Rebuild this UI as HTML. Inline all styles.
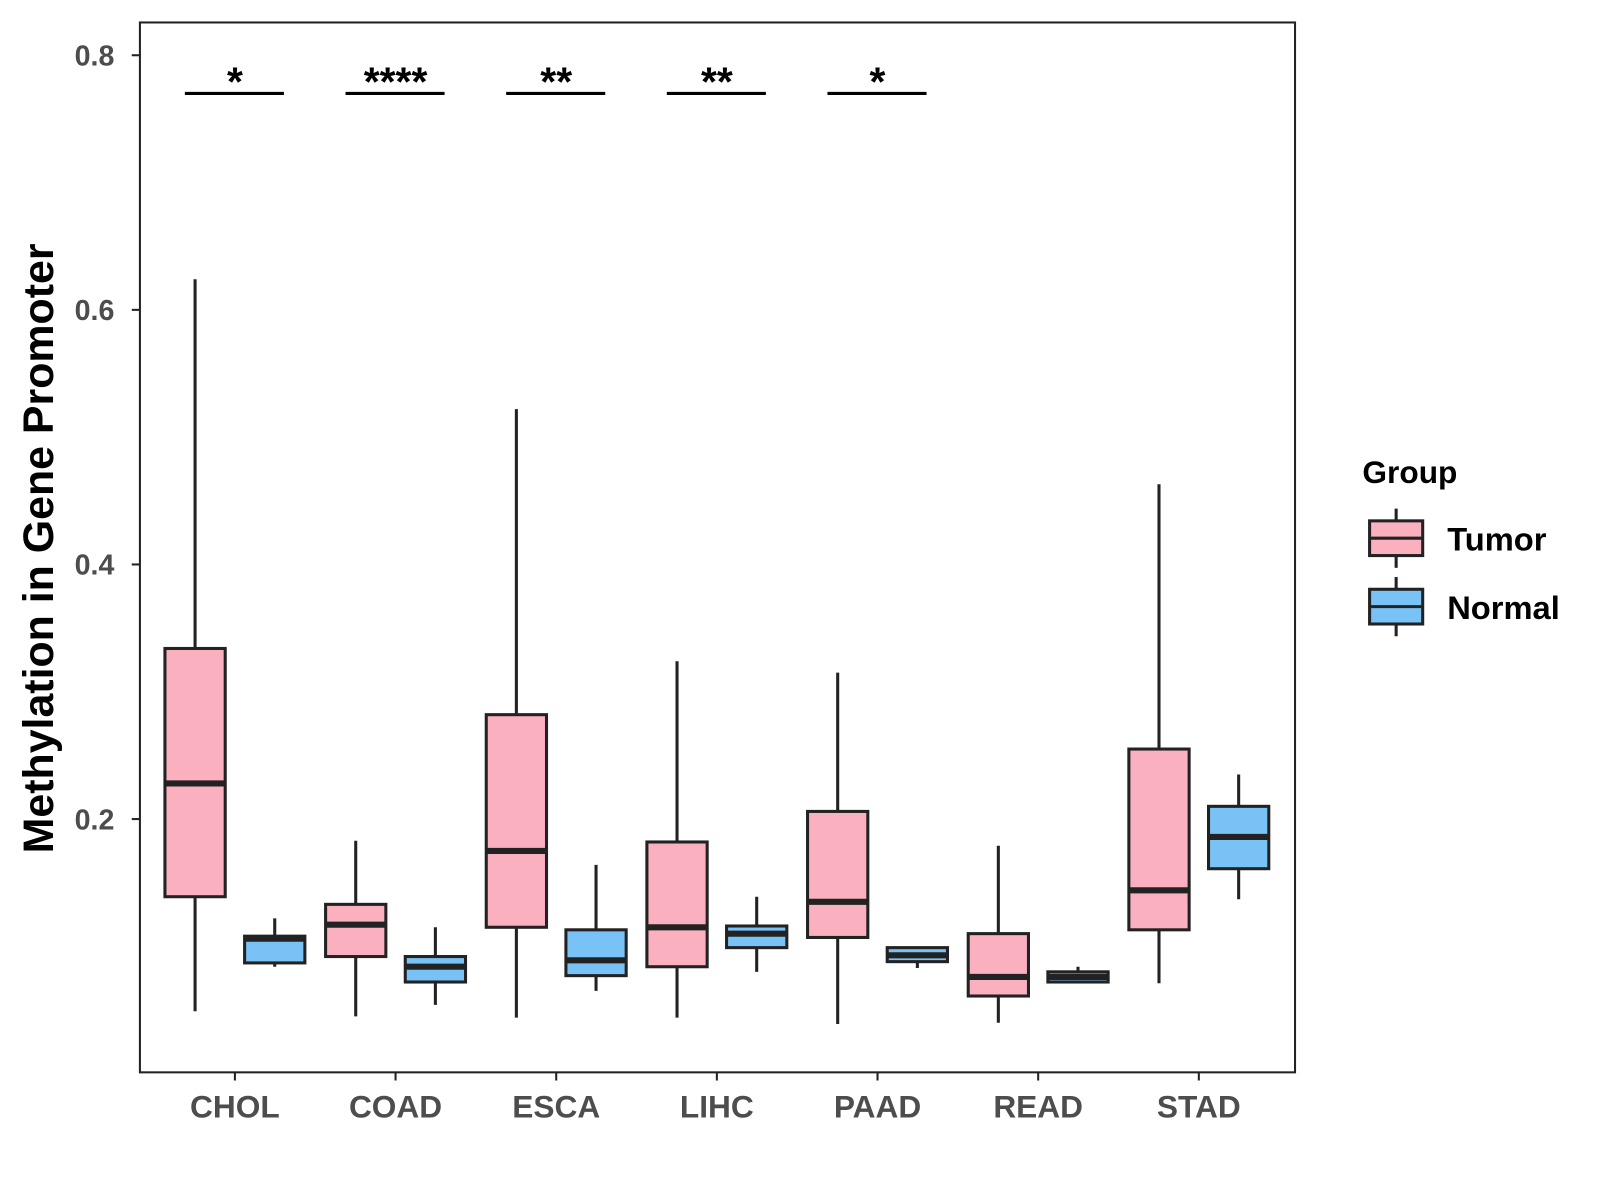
<!DOCTYPE html>
<html><head><meta charset="utf-8"><style>
body{margin:0;background:#fff}
svg{display:block;font-family:"Liberation Sans",Arial,sans-serif}
</style></head><body>
<svg id="chart" width="1600" height="1200" viewBox="0 0 1566.6 1175" preserveAspectRatio="none">
<rect x="0" y="0" width="1566.6" height="1175" fill="#fff"/>
<rect x="137" y="22" width="1131" height="1028" fill="#fff" stroke="#222" stroke-width="2"/>
<g id="yaxis"></g>
<g id="xaxis"></g>
<g id="boxes"></g>
<g id="sig"></g>
<text x="38" y="537" transform="rotate(-90 38 537)" text-anchor="middle" dominant-baseline="central" font-size="42" font-weight="bold" fill="#000">Methylation in Gene Promoter</text>
<g>
<text x="1334" y="473" font-size="31" font-weight="bold" fill="#000">Group</text>
<g>
<line x1="1367" y1="498" x2="1367" y2="556" stroke="#222" stroke-width="3"/>
<rect x="1341" y="510" width="52" height="34" fill="#fbb0c0" stroke="#222" stroke-width="3"/>
<line x1="1341" y1="527" x2="1393" y2="527" stroke="#222" stroke-width="3"/>
<text x="1417" y="539" font-size="32" font-weight="bold" fill="#000">Tumor</text>
</g>
<g>
<line x1="1367" y1="565" x2="1367" y2="623" stroke="#222" stroke-width="3"/>
<rect x="1341" y="577" width="52" height="34" fill="#79c2f5" stroke="#222" stroke-width="3"/>
<line x1="1341" y1="594" x2="1393" y2="594" stroke="#222" stroke-width="3"/>
<text x="1417" y="606" font-size="32" font-weight="bold" fill="#000">Normal</text>
</g>
</g>
</svg>
<script>
const categories=["CHOL","COAD","ESCA","LIHC","PAAD","READ","STAD"];
// [low, q1, median, q3, high]
const tumorStats=[[0.049,0.139,0.228,0.334,0.624],[0.045,0.092,0.117,0.133,0.183],[0.044,0.115,0.175,0.282,0.522],[0.044,0.084,0.115,0.182,0.324],[0.039,0.107,0.135,0.206,0.315],[0.040,0.061,0.076,0.110,0.179],[0.071,0.113,0.144,0.255,0.463]];
const normalStats=[[0.084,0.087,0.106,0.108,0.122],[0.054,0.072,0.084,0.092,0.115],[0.065,0.077,0.089,0.113,0.164],[0.080,0.099,0.110,0.116,0.139],[0.083,0.088,0.093,0.099,0.099],[0.071,0.072,0.076,0.080,0.084],[0.137,0.161,0.186,0.210,0.235]];
const yTicks=[0.2,0.4,0.6,0.8];
const sigLabels=["*","****","**","**","*","",""];
const sigLevel=0.77;

const NS="http://www.w3.org/2000/svg";
function y(v){return 802-(v-0.2)*1246.5;}
function x(i){return 230+i*157.3;}
function mk(tag,attrs,parent,txt){const e=document.createElementNS(NS,tag);for(const k in attrs)e.setAttribute(k,attrs[k]);if(txt!==undefined)e.textContent=txt;parent.appendChild(e);return e;}
const ya=document.getElementById('yaxis'),xa=document.getElementById('xaxis'),bx=document.getElementById('boxes'),sg=document.getElementById('sig');
yTicks.forEach(t=>{
  const l=mk('line',{x1:129,x2:137,y1:y(t),y2:y(t),stroke:'#222','stroke-width':2},ya);
  
  
  const tx=mk('text',{x:112,y:y(t)+10,'text-anchor':'end','font-size':28,'font-weight':'bold',fill:'#4d4d4d'},ya,t.toFixed(1));
  
  
});
categories.forEach((c,i)=>{
  const l=mk('line',{x1:x(i),x2:x(i),y1:1050,y2:1058,stroke:'#222','stroke-width':2},xa);
  
  
  const tx=mk('text',{x:x(i),y:1094,'text-anchor':'middle','font-size':31,'font-weight':'bold',fill:'#4d4d4d'},xa,c);
  
  
});
function drawBox(cx,s,fill,name){
  const g=mk('g',{},bx);
  
  
  const w=59;
  mk('line',{x1:cx,x2:cx,y1:y(s[0]),y2:y(s[4]),stroke:'#222','stroke-width':3},g);
  mk('rect',{x:cx-w/2,y:y(s[3]),width:w,height:Math.max(1,y(s[1])-y(s[3])),fill:fill,stroke:'#222','stroke-width':3},g);
  mk('line',{x1:cx-w/2,x2:cx+w/2,y1:y(s[2]),y2:y(s[2]),stroke:'#222','stroke-width':6},g);
}
categories.forEach((c,i)=>{
  drawBox(x(i)-39,tumorStats[i],'#fbb0c0','box-tumor-'+c.toLowerCase());
  drawBox(x(i)+39,normalStats[i],'#79c2f5','box-normal-'+c.toLowerCase());
  if(sigLabels[i]){
    const l=mk('line',{x1:x(i)-49,x2:x(i)+48,y1:y(sigLevel),y2:y(sigLevel),stroke:'#000','stroke-width':3},sg);
    
    
    const t=mk('text',{x:x(i),y:y(sigLevel)+2,'text-anchor':'middle','font-size':40,'font-weight':'bold',fill:'#000'},sg,sigLabels[i]);
    
    
  }
});
</script>
</body></html>
